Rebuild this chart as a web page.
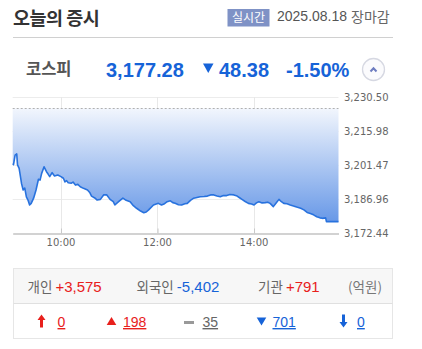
<!DOCTYPE html>
<html>
<head>
<meta charset="utf-8">
<script src="https://cdn.jsdelivr.net/npm/d3@7"></script>
<style>
  body { margin: 0; background: #fff; }
  svg { display: block; }
</style>
</head>
<body>
<div id="market-today"></div>
<script>
// DATA
const indexName = "코스피";
const closeValue = 3177.28;
const changeValue = 48.38;
const changePct = -1.5;
const prevClose = 3225.66;
const tradeDate = "2025.08.18";

const times = [
  "09:00", "09:01", "09:03", "09:05", "09:06", "09:08", "09:09", "09:11", "09:13", "09:15",
  "09:17", "09:19", "09:21", "09:23", "09:26", "09:29", "09:32", "09:34", "09:36", "09:39",
  "09:42", "09:44", "09:46", "09:49", "09:52", "09:56", "10:00", "10:03", "10:05", "10:07",
  "10:09", "10:13", "10:15", "10:18", "10:21", "10:24", "10:28", "10:33", "10:36", "10:38",
  "10:42", "10:45", "10:49", "10:53", "10:57", "11:01", "11:05", "11:07", "11:12", "11:17",
  "11:21", "11:26", "11:30", "11:34", "11:39", "11:43", "11:46", "11:49", "11:55", "12:01",
  "12:05", "12:08", "12:12", "12:16", "12:19", "12:22", "12:26", "12:30", "12:34", "12:37",
  "12:41", "12:45", "12:49", "12:53", "12:58", "13:02", "13:06", "13:10", "13:14", "13:18",
  "13:22", "13:26", "13:30", "13:35", "13:39", "13:42", "13:45", "13:49", "13:53", "13:57",
  "14:00", "14:03", "14:06", "14:10", "14:14", "14:17", "14:20", "14:24", "14:27", "14:31",
  "14:34", "14:37", "14:41", "14:45", "14:50", "14:54", "14:58", "15:02", "15:06", "15:10",
  "15:14", "15:18", "15:22", "15:25", "15:29", "15:30", "15:45"
];
const prices = [
  3202.2, 3201.6, 3205.7, 3206.2, 3201.5, 3200.0, 3197.9, 3193.5, 3190.8, 3191.6,
  3187.9, 3186.5, 3184.4, 3185.1, 3187.3, 3190.8, 3195.4, 3195.0, 3197.9, 3200.7,
  3198.6, 3197.6, 3196.5, 3198.2, 3196.8, 3197.2, 3196.5, 3195.8, 3194.3, 3194.8,
  3193.9, 3193.7, 3194.2, 3192.9, 3193.2, 3192.2, 3191.5, 3190.8, 3189.6, 3188.2,
  3187.4, 3186.5, 3186.8, 3188.7, 3188.7, 3186.8, 3185.8, 3184.4, 3185.9, 3187.3,
  3186.4, 3185.8, 3184.1, 3183.0, 3181.8, 3181.1, 3181.4, 3182.3, 3184.4, 3185.1,
  3184.4, 3184.8, 3185.8, 3186.2, 3185.4, 3185.1, 3184.5, 3184.4, 3184.9, 3185.1,
  3186.4, 3187.3, 3187.6, 3187.9, 3188.0, 3188.2, 3188.7, 3188.7, 3188.2, 3187.9,
  3188.4, 3188.4, 3188.9, 3188.7, 3188.2, 3187.5, 3186.8, 3185.9, 3185.1, 3184.8,
  3184.4, 3185.3, 3185.8, 3185.3, 3185.4, 3185.6, 3185.1, 3183.7, 3185.0, 3186.8,
  3185.8, 3185.1, 3184.9, 3184.4, 3183.9, 3183.4, 3183.0, 3182.3, 3181.2, 3180.8,
  3180.2, 3179.4, 3178.9, 3178.7, 3178.9, 3177.28, 3177.28
];
const yTicks = [3172.44, 3186.96, 3201.47, 3215.98, 3230.5];
const xTicks = ["10:00", "12:00", "14:00"];
const timeRange = ["09:00", "15:45"];

const investors = ["개인", "외국인", "기관"];
const investorNet = [3575, -5402, 791];
const breadthValues = [0, 198, 35, 701, 0];
const breadthKinds = ["upper", "up", "flat", "down", "lower"];

// SIZES
const WIDTH = 422;
const HEIGHT = 349;
const PLOT = { LEFT: 12.7, RIGHT: 338.5, TOP: 97, BOTTOM: 233 };
const KR = "'Noto Sans CJK KR', sans-serif";
const NUM = "'Liberation Sans', Arial, sans-serif";
const RED = "#e8201c";
const BLUE = "#1663d8";

const parseTime = (s) => {
  const [h, m] = s.split(":").map(Number);
  return h * 60 + m;
};
const fmt2 = d3.format(",.2f");
const hyphen = (s) => s.replace("−", "-");

const svg = d3
  .select("#market-today")
  .append("svg")
  .attr("width", WIDTH)
  .attr("height", HEIGHT);

// HEADER
svg
  .append("text")
  .attr("x", 13)
  .attr("y", 25)
  .attr("font-family", KR)
  .attr("font-size", "18.5px")
  .attr("font-weight", "bold")
  .attr("letter-spacing", "-0.5px")
  .style("fill", "#333")
  .text("오늘의 증시");

svg
  .append("rect")
  .attr("x", 227.5)
  .attr("y", 9)
  .attr("width", 42)
  .attr("height", 17.5)
  .attr("fill", "#7f92c6");
svg
  .append("text")
  .attr("x", 248.5)
  .attr("y", 22)
  .attr("text-anchor", "middle")
  .attr("font-family", KR)
  .attr("font-size", "12px")
  .style("fill", "#fff")
  .text("실시간");
svg
  .append("text")
  .attr("x", 277)
  .attr("y", 21)
  .attr("font-family", NUM)
  .attr("font-size", "14px")
  .style("fill", "#555")
  .text(tradeDate);
svg
  .append("text")
  .attr("x", 351)
  .attr("y", 22)
  .attr("font-family", KR)
  .attr("font-size", "14px")
  .style("fill", "#666")
  .text("장마감");
svg
  .append("line")
  .attr("x1", 13)
  .attr("x2", 393)
  .attr("y1", 37.5)
  .attr("y2", 37.5)
  .attr("stroke", "#d0d0d0");

// INDEX SUMMARY
svg
  .append("text")
  .attr("x", 26)
  .attr("y", 75)
  .attr("font-family", KR)
  .attr("font-size", "16.5px")
  .attr("font-weight", "bold")
  .style("fill", "#555")
  .text(indexName);
svg
  .append("text")
  .attr("x", 106)
  .attr("y", 76.5)
  .attr("font-family", NUM)
  .attr("font-size", "20px")
  .attr("font-weight", "bold")
  .style("fill", BLUE)
  .text(fmt2(closeValue));
svg
  .append("path")
  .attr("d", "M203,63.5 L213.5,63.5 L208.25,73 Z")
  .attr("fill", BLUE);
svg
  .append("text")
  .attr("x", 219)
  .attr("y", 76.5)
  .attr("font-family", NUM)
  .attr("font-size", "20px")
  .attr("font-weight", "bold")
  .style("fill", BLUE)
  .text(fmt2(changeValue));
svg
  .append("text")
  .attr("x", 286)
  .attr("y", 76.5)
  .attr("font-family", NUM)
  .attr("font-size", "20px")
  .attr("font-weight", "bold")
  .style("fill", BLUE)
  .text(hyphen(d3.format(".2f")(changePct)) + "%");
svg
  .append("circle")
  .attr("cx", 373.5)
  .attr("cy", 69.5)
  .attr("r", 11)
  .attr("fill", "#fbfbfd")
  .attr("stroke", "#d6d8e2")
  .attr("stroke-width", 1.3);
svg
  .append("path")
  .attr("d", "M370.5,71.5 L373.5,68.3 L376.5,71.5")
  .attr("fill", "none")
  .attr("stroke", "#6d7cc0")
  .attr("stroke-width", 2);

// CHART
const points = times.map((t, i) => ({ t: parseTime(t), v: prices[i] }));

let x = d3
  .scaleLinear()
  .domain(timeRange.map(parseTime))
  .range([PLOT.LEFT, PLOT.RIGHT]);
let y = d3
  .scaleLinear()
  .domain([yTicks[0], yTicks[yTicks.length - 1]])
  .range([PLOT.BOTTOM, PLOT.TOP]);

const chart = svg.append("g");

const grad = svg
  .append("defs")
  .append("linearGradient")
  .attr("id", "fillGrad")
  .attr("gradientUnits", "userSpaceOnUse")
  .attr("x1", 0)
  .attr("x2", 0)
  .attr("y1", y(prevClose))
  .attr("y2", PLOT.BOTTOM);
grad.append("stop").attr("offset", "0%").attr("stop-color", "#f2f6fd");
grad.append("stop").attr("offset", "100%").attr("stop-color", "#5a8fe5");

// GRID
chart
  .selectAll(".hgrid")
  .data(yTicks.slice(1))
  .enter()
  .append("line")
  .attr("x1", PLOT.LEFT)
  .attr("x2", PLOT.RIGHT)
  .attr("y1", (d) => Math.round(y(d)) + 0.5)
  .attr("y2", (d) => Math.round(y(d)) + 0.5)
  .attr("stroke", "#ececec");

chart
  .selectAll(".vgrid")
  .data(xTicks)
  .enter()
  .append("line")
  .attr("x1", (d) => Math.round(x(parseTime(d))) + 0.5)
  .attr("x2", (d) => Math.round(x(parseTime(d))) + 0.5)
  .attr("y1", PLOT.TOP)
  .attr("y2", PLOT.BOTTOM)
  .attr("stroke", "#e8e8e8");

// AREA + LINE
chart
  .append("path")
  .datum(points)
  .attr("fill", "url(#fillGrad)")
  .attr(
    "d",
    d3
      .area()
      .x((d) => x(d.t))
      .y0(y(prevClose))
      .y1((d) => y(d.v))
  );

chart
  .append("line")
  .attr("x1", PLOT.LEFT)
  .attr("x2", PLOT.RIGHT)
  .attr("y1", Math.round(y(prevClose)) + 0.5)
  .attr("y2", Math.round(y(prevClose)) + 0.5)
  .attr("stroke", "#b0b0b0")
  .attr("stroke-dasharray", "2,2");

chart
  .append("path")
  .datum(points)
  .attr("fill", "none")
  .attr("stroke", "#2872de")
  .attr("stroke-width", 1.6)
  .attr("stroke-linejoin", "round")
  .attr(
    "d",
    d3
      .line()
      .x((d) => x(d.t))
      .y((d) => y(d.v))
  );

// AXIS
const xAxisGroup = chart
  .append("g")
  .attr("transform", `translate(0, ${PLOT.BOTTOM + 0.5})`)
  .call(
    d3
      .axisTop(x)
      .tickValues(xTicks.map(parseTime))
      .tickSize(5)
      .tickSizeOuter(0)
      .tickFormat("")
  );
xAxisGroup.select(".domain").attr("stroke", "#a5a5a5");
xAxisGroup.selectAll(".tick line").attr("stroke", "#c8c8c8");

chart
  .selectAll(".xLabel")
  .data(xTicks)
  .enter()
  .append("text")
  .attr("x", (d) => x(parseTime(d)))
  .attr("y", PLOT.BOTTOM + 13)
  .attr("text-anchor", "middle")
  .attr("font-family", "'DejaVu Sans', sans-serif")
  .attr("font-size", "10px")
  .style("fill", "#666")
  .text((d) => d);

chart
  .selectAll(".yLabel")
  .data(yTicks)
  .enter()
  .append("text")
  .attr("x", 344)
  .attr("y", (d) => y(d))
  .attr("dy", "0.36em")
  .attr("font-family", "'DejaVu Sans', sans-serif")
  .attr("font-size", "10px")
  .style("fill", "#666")
  .text((d) => fmt2(d));

// INVESTOR BOX
svg
  .append("rect")
  .attr("x", 13.5)
  .attr("y", 268.5)
  .attr("width", 379)
  .attr("height", 35)
  .attr("fill", "#f7f7f7");
svg
  .append("rect")
  .attr("x", 13.5)
  .attr("y", 268.5)
  .attr("width", 379)
  .attr("height", 70)
  .attr("fill", "none")
  .attr("stroke", "#e6e6e6");
svg
  .append("line")
  .attr("x1", 13.5)
  .attr("x2", 392.5)
  .attr("y1", 303.5)
  .attr("y2", 303.5)
  .attr("stroke", "#e0e0e0");

const investorX = [27.5, 136.5, 258];
const signed = d3.format("+,");
investors.forEach((name, i) => {
  const t = svg
    .append("text")
    .attr("x", investorX[i])
    .attr("y", 292)
    .attr("font-family", KR)
    .attr("font-size", "13.5px")
    .style("fill", "#666")
    .text(name + " ");
  t.append("tspan")
    .attr("font-family", NUM)
    .attr("font-size", "15px")
    .style("fill", investorNet[i] > 0 ? RED : BLUE)
    .text(hyphen(signed(investorNet[i])));
});
svg
  .append("text")
  .attr("x", 348)
  .attr("y", 292)
  .attr("font-family", KR)
  .attr("font-size", "13.5px")
  .style("fill", "#777")
  .text("(억원)");

// BREADTH ROW
const breadthIconX = [41.5, 111.5, 189, 261.5, 343.5];
const breadthTextX = [57.5, 123, 202.5, 272.5, 357];
const breadthColor = { upper: RED, up: RED, flat: "#666", down: BLUE, lower: BLUE };
const icon = {
  upper: (cx) => `M${cx - 4},320 L${cx},314.5 L${cx + 4},320 L${cx + 1.5},320 L${cx + 1.5},327.5 L${cx - 1.5},327.5 L${cx - 1.5},320 Z`,
  up: (cx) => `M${cx - 4.8},325 L${cx + 4.8},325 L${cx},317 Z`,
  flat: (cx) => `M${cx - 5},321 L${cx + 5},321 L${cx + 5},324 L${cx - 5},324 Z`,
  down: (cx) => `M${cx - 4.8},317.5 L${cx + 4.8},317.5 L${cx},325.5 Z`,
  lower: (cx) => `M${cx - 4},322 L${cx},327.5 L${cx + 4},322 L${cx + 1.5},322 L${cx + 1.5},314.5 L${cx - 1.5},314.5 L${cx - 1.5},322 Z`,
};
breadthKinds.forEach((k, i) => {
  const color = breadthColor[k];
  svg.append("path").attr("d", icon[k](breadthIconX[i])).attr("fill", k === "flat" ? "#999" : color);
  svg
    .append("text")
    .attr("x", breadthTextX[i])
    .attr("y", 327)
    .attr("font-family", NUM)
    .attr("font-size", "14px")
    .attr("text-decoration", "underline")
    .style("fill", color)
    .text(breadthValues[i]);
});
</script>
</body>
</html>
